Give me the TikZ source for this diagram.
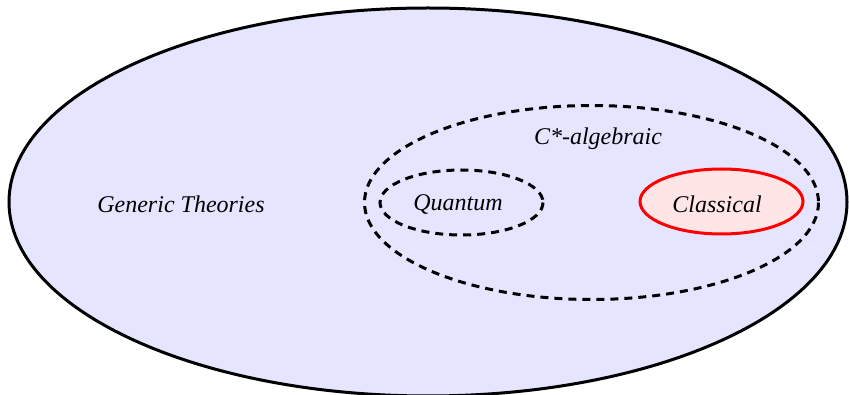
\documentclass[tikz,border=0pt]{standalone}
\usepackage{fontspec}
\setmainfont{Liberation Serif}
\usetikzlibrary{shapes.geometric}
\begin{document}
\begin{tikzpicture}[x=1pt,y=-1pt,
  outerset/.style={draw=black,line width=3pt,fill=blue!10},
  dashset/.style={draw=black,line width=3pt,dash pattern=on 8pt off 6pt},
  classset/.style={draw=red,line width=3pt,fill=red!10},
  lbl/.style={font=\itshape\fontsize{24}{28}\selectfont,inner sep=0pt}]
\useasboundingbox (0,0) rectangle (849,395);
\draw[outerset] (428,202) ellipse [x radius=419, y radius=194];
\draw[dashset] (591.5,202.5) ellipse [x radius=227, y radius=97];
\draw[dashset] (461.5,202.5) ellipse [x radius=81.5, y radius=32.5];
\draw[classset] (721.5,201.5) ellipse [x radius=81.5, y radius=32.5];
\node[lbl] (gen) at (181,204) {Generic Theories};
\node[lbl] (cst) at (598,139) {C*-algebraic};
\node[lbl] (qua) at (458,205) {Quantum};
\node[lbl] (cla) at (717,204) {Classical};
\end{tikzpicture}
\end{document}
